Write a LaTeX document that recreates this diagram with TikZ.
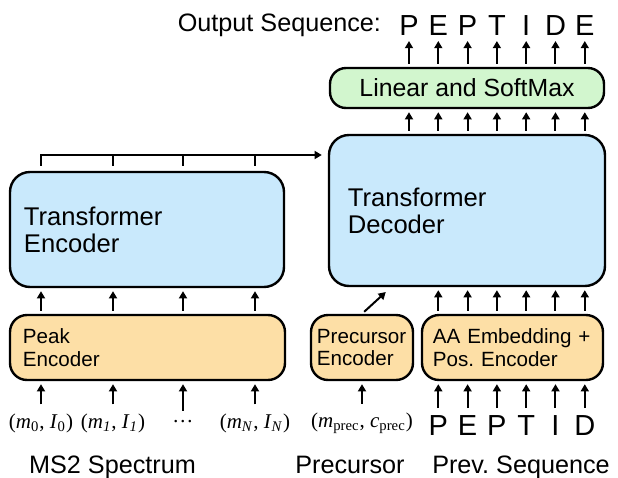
\documentclass[tikz,border=0pt]{standalone}
\usepackage{fontspec}
\setmainfont{Liberation Sans}
\newfontfamily\inserif{Liberation Serif}
\usetikzlibrary{arrows.meta, positioning}
\frenchspacing

\definecolor{encblue}{RGB}{201,233,252}
\definecolor{embtan}{RGB}{253,223,166}
\definecolor{lingreen}{RGB}{210,246,206}

\begin{document}
\begin{tikzpicture}[
        x=0.5pt, y=-0.5pt,
        line width=1pt,
        >={Triangle[length=3.6pt, width=4pt]},
        feed/.style={->, shorten <=1.5pt, shorten >=1.5pt},
        box/.style={draw, line width=1.2pt, rounded corners=8.5pt, inner ysep=0pt,
          minimum height=32.5pt, align=left, font=\fontsize{10.3}{11.3}\selectfont},
        blockbox/.style={box, fill=encblue, rounded corners=10pt,
          font=\fontsize{12.8}{13.4}\selectfont},
        embbox/.style={box, fill=embtan},
        letter/.style={font=\fontsize{14.5}{14.5}\selectfont, inner sep=0pt, anchor=base},
        peakin/.style={font=\inserif\fontsize{10.5}{12}\selectfont, inner sep=1pt},
        caption/.style={font=\fontsize{12.6}{13}\selectfont, inner sep=0pt, anchor=base},
    ]
        \useasboundingbox (0,0) rectangle (618,478);

        % blocks
        \node[blockbox, text width=123pt, inner xsep=7pt, minimum height=57.5pt]
          (enc) at (147,229.5) {Transformer\\Encoder};
        \node[blockbox, text width=119pt, inner xsep=9.5pt, minimum height=75.5pt]
          (dec) at (467,210.5) {Transformer\\Decoder};
        \node[box, fill=lingreen, rounded corners=8pt, minimum width=137pt,
          minimum height=20pt, font=\fontsize{12.4}{13}\selectfont]
          (lin) at (467,88) {Linear and SoftMax};
        \node[embbox, text width=124.5pt, inner xsep=6.5pt] (peak) at (147.5,347.5) {Peak\\Encoder};
        \node[embbox, text width=45pt, inner xsep=3pt] (prec) at (362,347.5) {Precursor\\Encoder};
        \node[embbox, text width=79.5pt, inner xsep=5.5pt] (aa) at (512.5,347.5) {AA Embedding +\\Pos. Encoder};

        % spectrum peaks
        \node[peakin] (m0) at (41,423) {(\textit{m}\textsubscript{0}, \textit{I}\textsubscript{0})};
        \node[peakin] (m1) at (113,423) {(\textit{m}\textsubscript{\textit{1}}, \textit{I}\textsubscript{\textit{1}})};
        \node[peakin] (mdots) at (183,423) {\raisebox{2pt}{\dots}};
        \node[peakin] (mN) at (255,423) {(\textit{m}\textsubscript{\textit{N}}, \textit{I}\textsubscript{\textit{N}})};
        \node[peakin] (mprec) at (362,423) {(\textit{m}\textsubscript{prec}, \textit{c}\textsubscript{prec})};

        \foreach \m in {m0, m1, mdots, mN} {
          \draw[feed, shorten <=3pt] (\m) -- (peak.south -| \m);
          \draw[feed] (peak.north -| \m) -- (enc.south -| \m);
        }

        % encoder memory to decoder
        \coordinate (bus) at (0,155);
        \draw[->, shorten <=2.5pt, shorten >=3pt] (enc.north -| m0) |- (dec.west |- bus);
        \foreach \m in {m1, mdots, mN}
          \draw[shorten <=2.5pt] (enc.north -| \m) -- (bus -| \m);

        \draw[feed, shorten <=3pt] (mprec) -- (prec);
        \coordinate (dectip) at (388,290);
        \draw[feed] (prec.north) -- (dectip);

        % sequences
        \node[caption, anchor=base east] (outlbl) at (382,31) {Output Sequence:};
        \foreach \l [count=\i from 0] in {P,E,P,T,I,D,E} {
          \node[letter] (o\i) at (409+29.3*\i,35) {\l};
          \draw[feed, shorten >=2.5pt] (lin.north -| o\i) -- (o\i);
          \draw[feed] (dec.north -| o\i) -- (lin.south -| o\i);
        }
        \foreach \l [count=\i] in {P,E,P,T,I,D} {
          \node[letter] (p\i) at (409+29.3*\i,435) {\l};
          \draw[feed, shorten <=3pt] (p\i) -- (aa.south -| p\i);
          \draw[feed] (aa.north -| p\i) -- (dec.south -| p\i);
        }

        \node[caption] (ms2) at (112.5,473) {MS2 Spectrum};
        \node[caption] (preclbl) at (350,473) {Precursor};
        \node[caption] (prevlbl) at (521,473) {Prev. Sequence};
    \end{tikzpicture}
\end{document}
